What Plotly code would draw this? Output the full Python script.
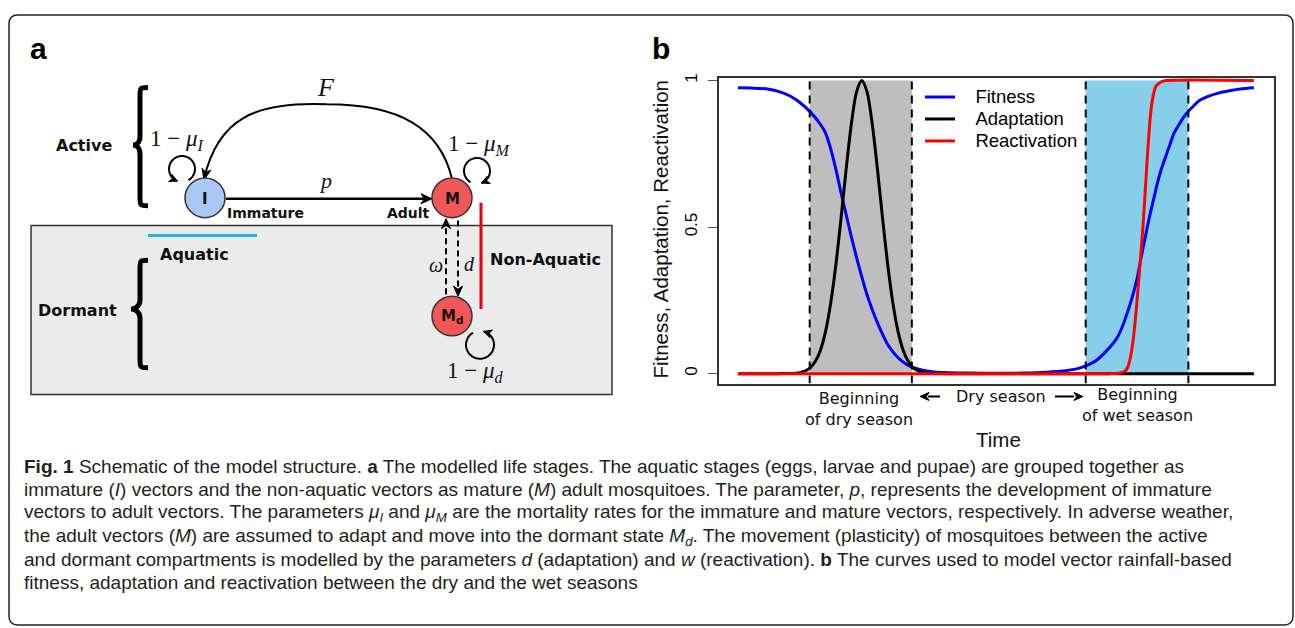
import numpy as np
import plotly.graph_objects as go

# ---------------- data (panel b) ----------------
fitness_t = [0, 3, 6, 8, 10, 12, 14, 16, 17, 18, 19, 20, 21, 22, 23, 24, 25, 26, 27, 28,
             29, 30, 31, 32, 33, 34, 36, 38, 40, 45, 50, 55, 60, 63, 66, 68, 69.3, 71, 73.3,
             74.5, 75.7, 76.5, 77.3, 78.3, 79, 79.7, 80.5, 81.3, 82.1, 82.9, 83.7, 84.5,
             85.5, 86.4, 87.3, 88.3, 89.3, 91, 93.3, 95.5, 97.4, 100]
fitness_v = [0.975, 0.974, 0.97, 0.962, 0.948, 0.925, 0.893, 0.85, 0.82, 0.765, 0.695, 0.615,
             0.54, 0.465, 0.395, 0.33, 0.27, 0.22, 0.175, 0.135, 0.10, 0.075, 0.055, 0.04,
             0.028, 0.02, 0.011, 0.006, 0.004, 0.002, 0.001, 0.002, 0.005, 0.009, 0.018,
             0.031, 0.043, 0.07, 0.117, 0.16, 0.22, 0.265, 0.32, 0.41, 0.47, 0.53, 0.59,
             0.65, 0.70, 0.74, 0.78, 0.82, 0.85, 0.875, 0.895, 0.913, 0.93, 0.945, 0.958,
             0.966, 0.971, 0.975]

adapt_t = [0, 8, 10, 12, 13, 14, 15, 16, 17, 18, 19, 20, 21, 22, 23, 24, 25, 26, 27, 28,
           29, 30, 31, 32, 33, 34, 35, 36, 38, 40, 60, 80, 100]
adapt_v = [0, 0, 0.0005, 0.0035, 0.009, 0.02, 0.042, 0.081, 0.146, 0.244, 0.375, 0.534,
           0.703, 0.855, 0.962, 1.0, 0.962, 0.855, 0.703, 0.534, 0.375, 0.244, 0.146, 0.081,
           0.042, 0.02, 0.009, 0.0035, 0.0005, 0, 0, 0, 0]

react_t = [0, 72, 74, 75, 75.5, 76, 76.5, 77, 77.5, 78, 78.5, 79, 79.5, 80, 80.5, 81, 82, 83, 100]
react_v = [0, 0, 0.002, 0.008, 0.02, 0.05, 0.1, 0.18, 0.28, 0.39, 0.5, 0.64, 0.78, 0.89,
           0.95, 0.98, 0.995, 1.0, 1.0]

season_bounds = [13.9, 33.7, 67.4, 87.3]   # dry-season start window, wet-season start window
y_ticks = [0, 0.5, 1]
y_tick_labels = ["0", "0.5", "1"]
series_names = ["Fitness", "Adaptation", "Reactivation"]
series_colors = ["#0000FF", "#000000", "#FF0000"]

W, H = 1295, 628
SANS = "Liberation Sans, Arial, sans-serif"
DJ = "DejaVu Sans, sans-serif"
SERIF = "Liberation Serif, Times New Roman, serif"

fig = go.Figure()

for t, v, name, col in [(fitness_t, fitness_v, series_names[0], series_colors[0]),
                        (adapt_t, adapt_v, series_names[1], series_colors[1]),
                        (react_t, react_v, series_names[2], series_colors[2])]:
    fig.add_trace(go.Scatter(
        x=t, y=v, mode="lines",
        name='<span style="font-size:18.5px">\u00a0\u00a0\u00a0' + name + "</span>",
        line=dict(color=col, width=3, shape="spline", smoothing=0.8),
        hoverinfo="skip"))

# dummy trace for the pixel overlay axis (diagram)
fig.add_trace(go.Scatter(x=[None], y=[None], xaxis="x2", yaxis="y2", showlegend=False,
                         hoverinfo="skip"))

shapes = []
annots = []

# seasons shading + dashed lines (panel b)
shapes.append(dict(type="rect", xref="x", yref="y", x0=season_bounds[0], x1=season_bounds[1],
                   y0=0, y1=1, fillcolor="#BEBEBE", line=dict(width=0), layer="below"))
shapes.append(dict(type="rect", xref="x", yref="y", x0=season_bounds[2], x1=season_bounds[3],
                   y0=0, y1=1, fillcolor="#87CEEB", line=dict(width=0), layer="below"))
for b in season_bounds:
    shapes.append(dict(type="line", xref="x", yref="y", x0=b, x1=b, y0=-0.034, y1=1,
                       line=dict(color="black", width=2, dash="8px,6px"), layer="above"))


def P(x, y):
    return f"{x:.1f},{y:.1f}"


def add_path(path, color="black", width=2, fill=None, dash=None):
    d = dict(type="path", xref="x2", yref="y2", path=path,
             line=dict(color=color, width=width), layer="above")
    if dash:
        d["line"]["dash"] = dash
    if fill:
        d["fillcolor"] = fill
    shapes.append(d)


def arrowhead(tip, d, L=10, Wd=4.5, notch=0.3, color="black"):
    dx, dy = d
    n = (dx * dx + dy * dy) ** 0.5
    dx, dy = dx / n, dy / n
    bx, by = tip[0] - L * dx, tip[1] - L * dy
    nx, ny = -dy, dx
    left = (bx + Wd * nx, by + Wd * ny)
    right = (bx - Wd * nx, by - Wd * ny)
    nt = (tip[0] - (1 - notch) * L * dx, tip[1] - (1 - notch) * L * dy)
    add_path(f"M{P(*tip)} L{P(*left)} L{P(*nt)} L{P(*right)} Z", color=color, width=1, fill=color)


def loop(cx, cy, r, a0, a1):
    th = np.radians(np.linspace(a0, a1, 50))
    pts = [(cx + r * np.cos(a), cy + r * np.sin(a)) for a in th]
    add_path("M" + " L".join(P(x, y) for x, y in pts), width=2)
    (x1, y1), (x2, y2) = pts[-2], pts[-1]
    arrowhead((x2, y2), (x2 - x1, y2 - y1), L=8, Wd=4)


def text(x, y, s, size=16, family=DJ, xanchor="center", color="#111", angle=0):
    annots.append(dict(x=x, y=y, xref="x2", yref="y2", text=s, showarrow=False,
                       xanchor=xanchor, yanchor="middle", textangle=angle,
                       font=dict(size=size, family=family, color=color)))


# outer rounded frame
x0, y0, x1, y1, r = 9, 11, 1293, 625, 9
add_path(f"M{x0+r},{y0} L{x1-r},{y0} Q{x1},{y0} {x1},{y0+r} L{x1},{y1-r} Q{x1},{y1} {x1-r},{y1} "
         f"L{x0+r},{y1} Q{x0},{y1} {x0},{y1-r} L{x0},{y0+r} Q{x0},{y0} {x0+r},{y0} Z",
         color="#222", width=1.5)

# ---------------- panel a diagram ----------------
shapes.append(dict(type="rect", xref="x2", yref="y2", x0=31, x1=612, y0=223, y1=393,
                   fillcolor="#EBEBEB", line=dict(color="#333", width=1.5), layer="above"))


def brace(xr, xs, xt, ya, yb, ym):
    return (f"M{xr},{ya} C{xs},{ya} {xs},{ya} {xs},{ya+9} L{xs},{ym-9} "
            f"C{xs},{ym-2} {xt+3},{ym} {xt},{ym} C{xt+3},{ym} {xs},{ym+2} {xs},{ym+9} "
            f"L{xs},{yb-9} C{xs},{yb} {xs},{yb} {xr},{yb}")


add_path(brace(148, 140, 133, 84, 203, 142), width=5)
add_path(brace(148, 140, 131, 258, 366, 307), width=5)

# aquatic / non-aquatic markers
shapes.append(dict(type="line", xref="x2", yref="y2", x0=148, x1=257, y0=233, y1=233,
                   line=dict(color="#1AB3E6", width=3), layer="above"))
shapes.append(dict(type="line", xref="x2", yref="y2", x0=481, x1=481, y0=200, y1=307,
                   line=dict(color="#E3000F", width=3), layer="above"))

# F arc
add_path("M452,176 C440,125 400,101 327,101 C255,98 218,115 204,176", width=2)
arrowhead((204, 177), (-14, 61), L=11, Wd=4.5)
# p arrow
add_path("M226,196 L424,196", width=2.5)
arrowhead((432, 196), (1, 0), L=11, Wd=5)
# omega / d dashed arrows
add_path("M446,292 L446,224", width=2, dash="6px,4px")
arrowhead((446, 216), (0, -1), L=10, Wd=4.5)
add_path("M458,218 L458,286", width=2, dash="6px,4px")
arrowhead((458, 294), (0, 1), L=10, Wd=4.5)

# self loops
loop(182, 166, 13, 60, -250)
loop(477, 168, 13, 120, 430)
loop(480, 343, 14, 240, -75)

# nodes
for cx, cy, col in [(205, 195, "#A9C8F5"), (452, 195, "#F25757"), (452, 314, "#F25757")]:
    shapes.append(dict(type="circle", xref="x2", yref="y2", x0=cx - 20, x1=cx + 20,
                       y0=cy - 20, y1=cy + 20, fillcolor=col,
                       line=dict(color="#333", width=1.5), layer="above"))

text(205, 196, "<b>I</b>", 15)
text(452, 196, "<b>M</b>", 15)
text(452, 315, "<b>M<sub>d</sub></b>", 15)

text(38, 44.5, "<b>a</b>", 30, SANS, color="#000")
text(84, 142, "<b>Active</b>", 16)
text(77, 308, "<b>Dormant</b>", 16)
text(225, 210, "<b>Immature</b>", 14, xanchor="left")
text(432, 210, "<b>Adult</b>", 14, xanchor="right")
text(158, 252, "<b>Aquatic</b>", 16, xanchor="left")
text(488, 257, "<b>Non-Aquatic</b>", 16, xanchor="left")
text(326, 84, "<i>F</i>", 26, SERIF)
text(325, 178, "<i>p</i>", 22, SERIF)
text(148, 137, "1 − <i>μ</i><sub><i>I</i></sub>", 23, SERIF, xanchor="left")
text(446, 142, "1 − <i>μ</i><sub><i>M</i></sub>", 23, SERIF, xanchor="left")
text(436, 263, "<i>ω</i>", 20, SERIF)
text(469, 262, "<i>d</i>", 20, SERIF)
text(445, 370, "1 − <i>μ</i><sub><i>d</i></sub>", 23, SERIF, xanchor="left")

# ---------------- panel b text ----------------
text(661, 44.5, "<b>b</b>", 30, SANS, color="#000")
text(661, 227, "Fitness, Adaptation, Reactivation", 20.5, SANS, angle=-90)
text(998, 438, "Time", 20.5, SANS)
text(859, 408, "Beginning<br>of dry season", 16, DJ)
text(1137, 404, "Beginning<br>of wet season", 16, DJ)
text(1001, 395, "Dry season", 16, DJ)
add_path("M940,395 L928,395", width=2)
arrowhead((920, 395), (-1, 0), L=9, Wd=4)
add_path("M1055,395 L1074,395", width=2)
arrowhead((1083, 395), (1, 0), L=9, Wd=4)

# ---------------- caption ----------------
CAP = "Liberation Sans, Arial, sans-serif"
caption_lines = [
    "<b>Fig. 1</b> Schematic of the model structure. <b>a</b> The modelled life stages. The aquatic stages (eggs, larvae and pupae) are grouped together as",
    "immature (<i>I</i>) vectors and the non-aquatic vectors as mature (<i>M</i>) adult mosquitoes. The parameter, <i>p</i>, represents the development of immature",
    "vectors to adult vectors. The parameters <i>μ<sub>I</sub></i> and <i>μ<sub>M</sub></i> are the mortality rates for the immature and mature vectors, respectively. In adverse weather,",
    "the adult vectors (<i>M</i>) are assumed to adapt and move into the dormant state <i>M<sub>d</sub></i>. The movement (plasticity) of mosquitoes between the active",
    "and dormant compartments is modelled by the parameters <i>d</i> (adaptation) and <i>w</i> (reactivation). <b>b</b> The curves used to model vector rainfall-based",
    "fitness, adaptation and reactivation between the dry and the wet seasons",
]
caption_y = [465, 489, 512.5, 536, 559, 582]
for s, yy in zip(caption_lines, caption_y):
    text(22, yy, s, 19, CAP, xanchor="left", color="#231F20")

fig.update_layout(
    width=W, height=H, autosize=False,
    margin=dict(l=0, r=0, t=0, b=0),
    paper_bgcolor="white", plot_bgcolor="rgba(0,0,0,0)",
    showlegend=True,
    legend=dict(x=920 / W, y=1 - 77.5 / H, xanchor="left", yanchor="top",
                bgcolor="rgba(0,0,0,0)", borderwidth=0,
                font=dict(family=SANS, size=14.6, color="#000"), itemwidth=30),
    xaxis=dict(domain=[719 / W, 1274 / W], range=[-3.68, 103.9], showgrid=False,
               zeroline=False, showticklabels=False, ticks="", showline=True, mirror=True,
               linecolor="#333", linewidth=1.5, fixedrange=True),
    yaxis=dict(domain=[1 - 382 / H, 1 - 74 / H], range=[-0.0339, 1.0102], showgrid=False,
               zeroline=False, tickvals=y_ticks, ticktext=y_tick_labels, ticks="outside",
               ticklen=9, tickwidth=1, tickcolor="#555", tickangle=-90,
               tickfont=dict(family=SANS, size=17, color="#000"), ticklabelstandoff=4,
               showline=True, mirror=True, linecolor="#333", linewidth=1.5, fixedrange=True),
    xaxis2=dict(domain=[0, 1], range=[0, W], visible=False, anchor="y2", fixedrange=True),
    yaxis2=dict(domain=[0, 1], range=[H, 0], visible=False, anchor="x2", fixedrange=True),
    shapes=shapes,
    annotations=annots,
)

fig.write_html("out.html", include_plotlyjs=True, config={"displayModeBar": False})
